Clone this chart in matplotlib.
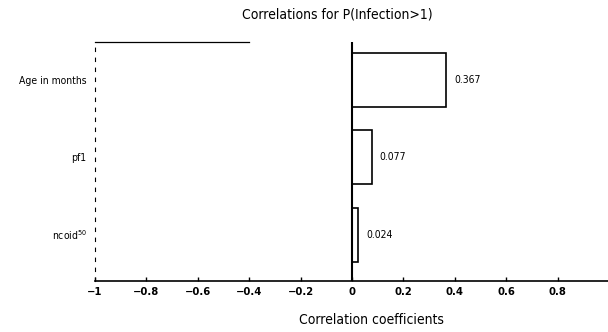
import matplotlib.pyplot as plt

# Data
labels = ['Age in months', 'pf1', 'ncoid$^{50}$']
values = [0.367, 0.077, 0.024]
value_text = ['0.367', '0.077', '0.024']
tick_vals = [-1, -0.8, -0.6, -0.4, -0.2, 0, 0.2, 0.4, 0.6, 0.8]
tick_text = ['\u22121', '\u22120.8', '\u22120.6', '\u22120.4', '\u22120.2', '0', '0.2', '0.4', '0.6', '0.8']

plt.rcParams['font.family'] = ['DejaVu Sans']
plt.rcParams['font.stretch'] = 'condensed'
plt.rcParams['mathtext.fontset'] = 'dejavusans'

fig = plt.figure(figsize=(6.08, 3.32), dpi=100)
ax = fig.add_axes([95 / 608, 1 - 281 / 332, 514 / 608, 239 / 332])

y = list(range(len(labels)))
ax.barh(y, values, height=0.7, color='white', edgecolor='black', linewidth=1.2)
for yi, v, t in zip(y, values, value_text):
    ax.text(v + 0.03, yi, t, va='center', ha='left', fontsize=7.5)

ax.axvline(0, color='black', linewidth=1.5)
ax.set_xlim(-1, 1)
ax.set_ylim(2.6, -0.49)
ax.set_yticks(y)
ax.set_yticklabels(labels, fontsize=7.5)
ax.tick_params(axis='y', length=0, pad=6)
ax.set_xticks(tick_vals)
ax.set_xticklabels(tick_text, fontsize=8, fontweight='bold')
ax.tick_params(axis='x', length=3, width=1, direction='in', pad=4)

ax.spines['right'].set_visible(False)
ax.spines['top'].set_visible(False)
ax.spines['left'].set_linestyle((0, (3, 6)))
ax.spines['left'].set_linewidth(0.8)
ax.spines['bottom'].set_linewidth(1.2)
# partial top border as in the scan
ax.plot([-1, -0.4], [-0.49, -0.49], color='black', linewidth=0.9, clip_on=False)

fig.text(371 / 608, 1 - 320 / 332, 'Correlation coefficients', ha='center', va='center', fontsize=10)
fig.text(337 / 608, 1 - 15 / 332, 'Correlations for P(Infection>1)', ha='center', va='center', fontsize=10)

fig.savefig('out.png', dpi=100)
